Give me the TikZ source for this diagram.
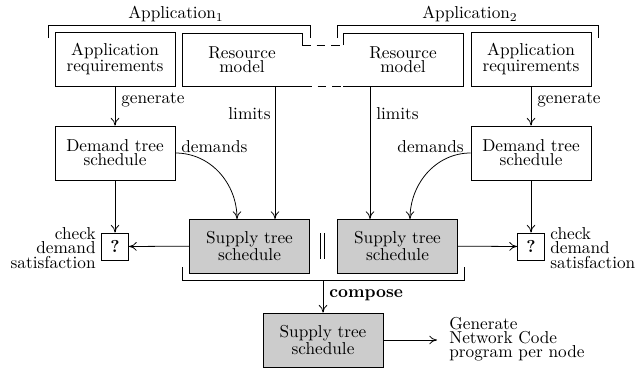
\documentclass[tikz,border=0pt]{standalone}
\usetikzlibrary{arrows.meta}
\begin{document}
\begin{tikzpicture}[x=0.58pt,y=-0.58pt,
  every node/.style={font=\fontsize{10}{8.2}\selectfont, inner sep=0pt},
  box/.style={draw, line width=0.45pt, minimum width=69.6pt, minimum height=31.3pt, align=center},
  rmbox/.style={minimum width=69.6pt, minimum height=31.3pt, align=center},
  sbox/.style={box, fill=gray!40},
  qbox/.style={draw, line width=0.45pt, minimum width=15.7pt, minimum height=15.7pt, font=\fontsize{10}{8.2}\selectfont\bfseries},
  lbl/.style={inner sep=0pt},
  conn/.style={line width=0.45pt, -{To[length=4.5pt,width=5pt]}},
  lin/.style={line width=0.45pt}
]
\useasboundingbox (0,0) rectangle (636,371);

% top brackets
\draw[lin] (48,38) -- (48,25) -- (310,25) -- (310,38);
\draw[lin] (337,38) -- (337,25) -- (598,25) -- (598,38);
\node (app1) at (176,14) {Application$_1$};
\node (app2) at (470,14) {Application$_2$};

% boxes
\node[box] (ar1) at (115,59) {Application\\requirements};
\node[box] (ar2) at (531,59) {Application\\requirements};
\node[rmbox] (rm1) at (242,59.5) {Resource\\model};
\node[rmbox] (rm2) at (403,59.5) {Resource\\model};
% joined resource model outline
\draw[lin] (302,45) -- (302,33) -- (182,33) -- (182,86) -- (303,86);
\draw[lin,dash pattern=on 5pt off 3.5pt] (302,45) -- (343,45);
\draw[lin,dash pattern=on 5pt off 3.5pt] (303,86) -- (343,86);
\draw[lin] (343,45) -- (343,33) -- (463,33) -- (463,86) -- (343,86);

\node[box] (dt1) at (115,153) {Demand tree\\schedule};
\node[box] (dt2) at (531,153) {Demand tree\\schedule};
\node[sbox] (s1) at (249.5,246) {Supply tree\\schedule};
\node[sbox] (s2) at (397.5,246) {Supply tree\\schedule};
\node[qbox] (q1) at (115,246.5) {?};
\node[qbox] (q2) at (531,246.5) {?};
\node[sbox] (s3) at (323,340) {Supply tree\\schedule};

% parallel composition sign
\draw[lin] (320.5,233) -- (320.5,259);
\draw[lin] (324.5,233) -- (324.5,259);

% coordinates for connector ends
\coordinate (lim1) at (275,219);
\coordinate (lim2) at (370,219);
\coordinate (dem1) at (237,219);
\coordinate (dem2) at (410,219);
\coordinate (cb) at (323,280);
\coordinate (gen) at (437,340);

% generate arrows
\draw[conn] (ar1) -- (dt1);
\draw[conn] (ar2) -- (dt2);
\node[lbl,anchor=west] (g1) at (121,100) {generate};
\node[lbl,anchor=west] (g2) at (537,100) {generate};

% limits
\draw[conn] (rm1.south -| lim1) -- (lim1);
\draw[conn] (rm2.south -| lim2) -- (lim2);
\node[lbl,anchor=east] (l1) at (271,114) {limits};
\node[lbl,anchor=west] (l2) at (376,114) {limits};

% demands
\draw[conn] (dt1.east) to[out=0,in=90] (dem1);
\draw[conn] (dt2.west) to[out=180,in=90] (dem2);
\node[lbl,anchor=west] (d1) at (181,147) {demands};
\node[lbl,anchor=east] (d2) at (464,147) {demands};

% checks
\draw[conn] (dt1) -- (q1);
\draw[conn] (dt2) -- (q2);
\draw[conn] (s1) -- (q1);
\draw[conn] (s2) -- (q2);
\node[lbl,anchor=east,align=right] (c1) at (96,248) {check\\demand\\satisfaction};
\node[lbl,anchor=west,align=left] (c2) at (550,248) {check\\demand\\satisfaction};

% compose bracket
\draw[lin] (182,267) -- (182,280) -- (464,280) -- (464,267);
\draw[conn] (cb) -- (s3);
\node[lbl,anchor=west,font=\fontsize{10}{8.2}\selectfont\bfseries] (comp) at (329,295) {compose};

% generate code
\draw[conn] (s3) -- (gen);
\node[lbl,anchor=west,align=left] (gt) at (449,339) {Generate\\Network Code\\program per node};
\end{tikzpicture}
\end{document}
